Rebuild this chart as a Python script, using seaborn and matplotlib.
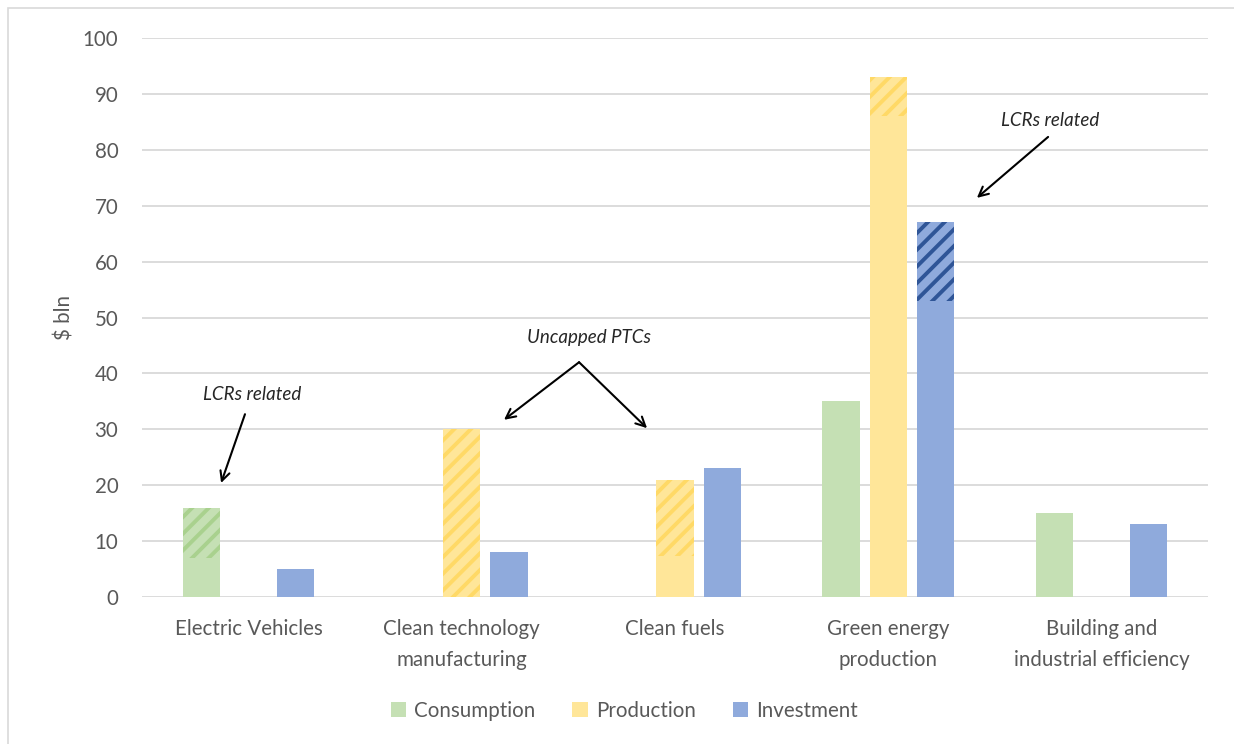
import matplotlib
matplotlib.use("Agg")
import matplotlib.pyplot as plt
from matplotlib.patches import Patch, Rectangle
import numpy as np
import pandas as pd
import seaborn as sns

# Support by category, $ bln
categories = ["Electric Vehicles", "Clean technology\nmanufacturing", "Clean fuels",
              "Green energy\nproduction", "Building and\nindustrial efficiency"]
series = ["Consumption", "Production", "Investment"]
consumption = [16, 0, 0, 35, 15]
production = [0, 30, 21, 93, 0]
investment = [5, 8, 23, 67, 13]

# Portion of each total that is LCR-related / uncapped (drawn hatched at the top of the bar)
consumption_hatched = [9, 0, 0, 0, 0]
production_hatched = [0, 30, 13.7, 7, 0]
investment_hatched = [0, 0, 0, 14, 0]

yticks = [0, 10, 20, 30, 40, 50, 60, 70, 80, 90, 100]

colors = {"Consumption": "#C5E0B4", "Production": "#FFE699", "Investment": "#8FAADC"}
hatch_colors = {"Consumption": "#A9D18E", "Production": "#FFD966", "Investment": "#2F5597"}

totals = {"Consumption": consumption, "Production": production, "Investment": investment}
hatched = {"Consumption": consumption_hatched, "Production": production_hatched,
           "Investment": investment_hatched}

df = pd.DataFrame({
    "category": np.repeat(categories, len(series)),
    "series": series * len(categories),
    "value": [totals[s][i] for i in range(len(categories)) for s in series],
})

sns.set_theme(style="white")
plt.rcParams["font.family"] = ["Lato", "DejaVu Sans"]
plt.rcParams["hatch.linewidth"] = 2.8

fig = plt.figure(figsize=(12.34, 7.44), dpi=100)
ax = fig.add_axes([142 / 1234, 1 - 597 / 744, (1208 - 142) / 1234, (597 - 38) / 744])

sns.barplot(data=df, x="category", y="value", hue="series", order=categories,
            hue_order=series, palette=colors, width=0.664, gap=0.21,
            saturation=1, legend=False, ax=ax, linewidth=0)

# Overlay hatched segments on top of the matching bars
for s, container in zip(series, ax.containers):
    for i, bar in enumerate(container):
        h = hatched[s][i]
        tot = totals[s][i]
        if h > 0:
            ax.bar(bar.get_x(), h, width=bar.get_width(), bottom=tot - h, align="edge",
                   facecolor="none", edgecolor=hatch_colors[s], linewidth=0,
                   hatch="//", zorder=3)

ax.set_ylim(0, 100)
ax.set_xlim(-0.5, len(categories) - 0.5)
ax.set_yticks(yticks)
ax.yaxis.grid(True, color="#D9D9D9", linewidth=1.3)
ax.set_axisbelow(True)
for sp in ax.spines.values():
    sp.set_visible(False)

txt_color = "#595959"
ax.tick_params(axis="y", length=0, pad=17, labelsize=14.8, labelcolor=txt_color)
ax.tick_params(axis="x", length=0, pad=16, labelsize=14.8, labelcolor=txt_color)
for lbl in ax.get_xticklabels():
    lbl.set_linespacing(1.65)
ax.set_xlabel("")
ax.set_ylabel("$ bln", fontsize=14.8, color=txt_color, labelpad=6)

# Annotations
arrow = dict(arrowstyle="->", color="black", lw=1.5, mutation_scale=17, shrinkA=0, shrinkB=0)
ax.text(0.016, 36.3, "LCRs related", style="italic", fontsize=13.5, ha="center", va="center")
ax.annotate("", xy=(-0.129, 20.4), xytext=(-0.017, 32.7), arrowprops=arrow)

ax.text(1.597, 46.5, "Uncapped PTCs", style="italic", fontsize=13.5, ha="center", va="center")
ax.annotate("", xy=(1.198, 31.7), xytext=(1.550, 42.0), arrowprops=arrow)
ax.annotate("", xy=(1.869, 30.2), xytext=(1.550, 42.0), arrowprops=arrow)

ax.text(3.759, 85.3, "LCRs related", style="italic", fontsize=13.5, ha="center", va="center")
ax.annotate("", xy=(3.416, 71.4), xytext=(3.750, 82.3), arrowprops=arrow)

# Legend
handles = [Patch(facecolor=colors[s], edgecolor="none", label=s) for s in series]
fig.legend(handles=handles, loc="center", bbox_to_anchor=(0.506, 1 - 711 / 744), ncol=3,
           frameon=False, fontsize=14.8, handlelength=0.75, handleheight=0.75,
           handletextpad=0.4, columnspacing=1.8, labelcolor=txt_color)

# Chart area border
fig.patches.append(Rectangle((8 / 1234, -0.05), 1.1, 1 - 8 / 744 + 0.05,
                             transform=fig.transFigure, fill=False,
                             edgecolor="#D9D9D9", linewidth=1.2))

fig.savefig("out.png", dpi=100)
